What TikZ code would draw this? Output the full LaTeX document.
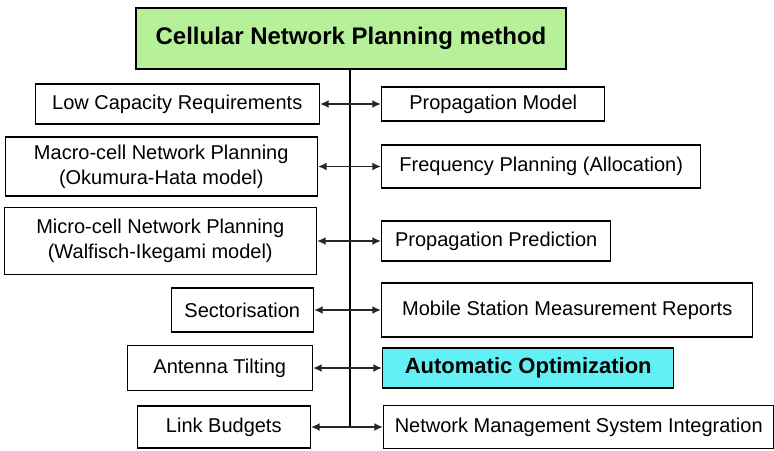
\documentclass[tikz,border=0pt]{standalone}
\usepackage{fontspec}
\setmainfont{Liberation Sans}
\usepackage{tikz}
\usetikzlibrary{arrows.meta,positioning}
\definecolor{titlecolor}{RGB}{182,240,152}
\definecolor{optcolor}{RGB}{98,240,245}

\begin{document}
\begin{tikzpicture}[x=0.75pt,y=-0.75pt,>={Latex[length=6.5pt,width=6pt]},
  every node/.style={font=\fontsize{15pt}{18.75pt}\selectfont},
  box/.style={draw,line width=1.1pt,inner sep=0pt,align=center},
  link/.style={<->,line width=1.3pt,black!85}]
\useasboundingbox (0,0) rectangle (774,450);
\node[box,fill=titlecolor,minimum width=322.5pt,minimum height=45.75pt,font=\fontsize{18pt}{22pt}\selectfont\bfseries](title) at (351,38.5){Cellular Network Planning method};
% points on the trunk
\coordinate (r1) at (350,104); \coordinate (r2) at (350,166.5); \coordinate (r3) at (350,241);
\coordinate (r4) at (350,310); \coordinate (r5) at (350,368); \coordinate (bottom) at (350,427);
% left column
\node[box,left=22.5pt of r1,minimum width=213pt,minimum height=30pt](lowcap){Low Capacity Requirements};
\node[box,left=24pt of r2,minimum width=234pt,minimum height=44.25pt](macro){Macro-cell Network Planning\\(Okumura-Hata model)};
\node[box,left=24.75pt of r3,minimum width=234pt,minimum height=50.25pt](micro){Micro-cell Network Planning\\(Walfisch-Ikegami model)};
\node[box,left=27pt of r4,minimum width=106.5pt,minimum height=33pt](sector){Sectorisation};
\node[box,left=27.75pt of r5,minimum width=138.75pt,minimum height=33.75pt](tilt){Antenna Tilting};
\node[box,left=29.25pt of bottom,minimum width=129.75pt,minimum height=31.5pt](budget){Link Budgets};
% right column
\node[box,right=23.25pt of r1,minimum width=167.25pt,minimum height=25.5pt](propmodel){Propagation Model};
\node[box,right=23.25pt of r2,minimum width=239.25pt,minimum height=32.25pt](freq){Frequency Planning (Allocation)};
\node[box,right=23.25pt of r3,minimum width=171.75pt,minimum height=30pt](proppred){Propagation Prediction};
\node[box,right=23.25pt of r4,minimum width=278.25pt,minimum height=40.5pt](reports){Mobile Station Measurement Reports};
\node[box,right=24pt of r5,minimum width=218.25pt,minimum height=30pt,fill=optcolor,font=\fontsize{16.5pt}{20pt}\selectfont\bfseries](autoopt){Automatic Optimization};
\node[box,right=24.75pt of bottom,minimum width=292.5pt,minimum height=32.25pt](nms){Network Management System Integration};
\draw[line width=1.6pt](title.south -| bottom)--(bottom);
\draw[link](lowcap)--(propmodel); \draw[link](macro)--(freq); \draw[link](micro)--(proppred);
\draw[link](sector)--(reports); \draw[link](tilt)--(autoopt); \draw[link](budget)--(nms);
\end{tikzpicture}
\end{document}
